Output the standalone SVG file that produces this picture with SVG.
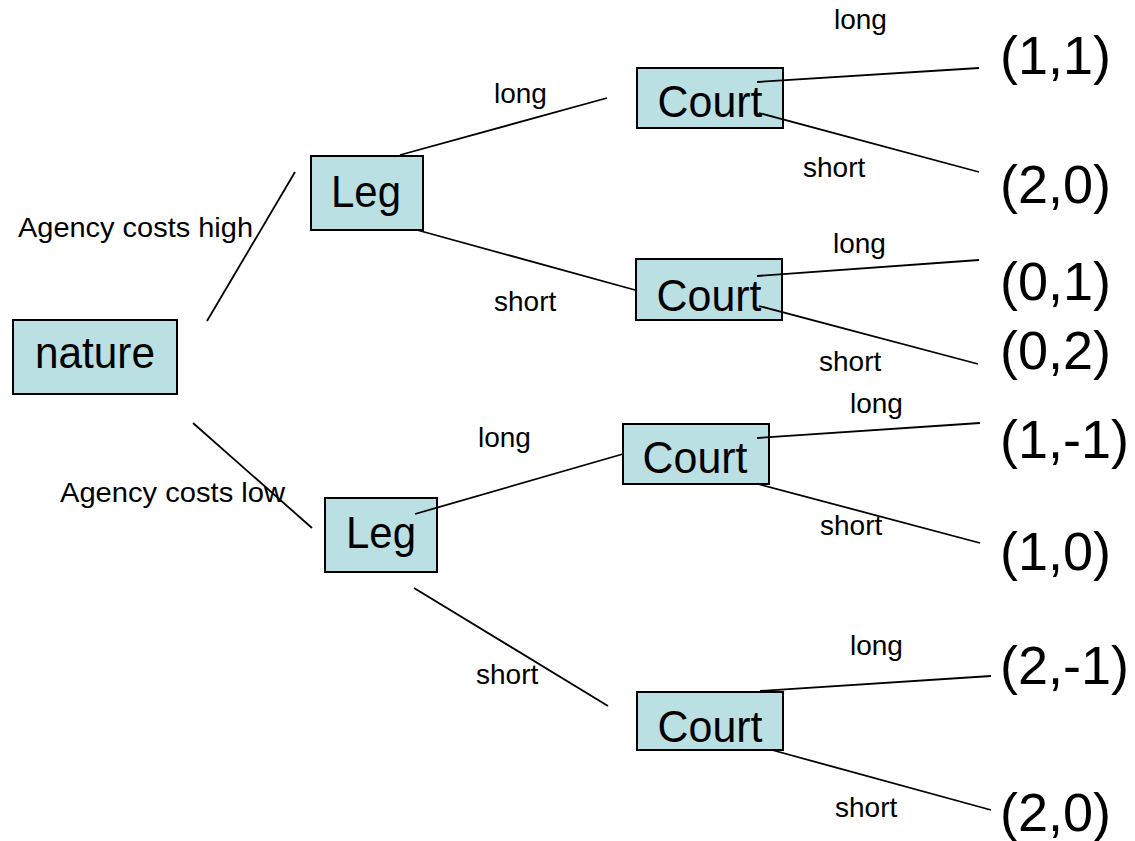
<svg xmlns="http://www.w3.org/2000/svg" width="1135" height="841" viewBox="0 0 1135 841">
<style>
.box{fill:#BBE0E3;stroke:#000;stroke-width:2}
.big{font-family:"Liberation Sans",Arial,sans-serif;font-size:44px;fill:#000}
.pay{font-family:"Liberation Sans",Arial,sans-serif;font-size:54px;fill:#000}
.mid{text-anchor:middle}
.sm{font-family:"Liberation Sans",Arial,sans-serif;font-size:28px;fill:#000}
.edge{stroke:#000;stroke-width:1.8;fill:none}
</style>
<rect width="1135" height="841" fill="#fff"/>
<g id="nature"><rect class="box" x="13" y="320" width="164" height="74"/><text class="big mid" x="95" y="368" textLength="120" lengthAdjust="spacingAndGlyphs">nature</text></g>
<g id="leg1"><rect class="box" x="311" y="156" width="112" height="74"/><text class="big mid" x="366" y="207" textLength="70" lengthAdjust="spacingAndGlyphs">Leg</text></g>
<g id="leg2"><rect class="box" x="325" y="498" width="112" height="74"/><text class="big mid" x="381" y="548" textLength="70" lengthAdjust="spacingAndGlyphs">Leg</text></g>
<g id="court1"><rect class="box" x="637" y="68" width="146" height="60"/><text class="big mid" x="710" y="117" textLength="105" lengthAdjust="spacingAndGlyphs">Court</text></g>
<g id="court2"><rect class="box" x="636" y="259" width="146" height="61"/><text class="big mid" x="709" y="311" textLength="105" lengthAdjust="spacingAndGlyphs">Court</text></g>
<g id="court3"><rect class="box" x="623" y="424" width="146" height="60"/><text class="big mid" x="695" y="473" textLength="105" lengthAdjust="spacingAndGlyphs">Court</text></g>
<g id="court4"><rect class="box" x="637" y="692" width="146" height="58"/><text class="big mid" x="710" y="742" textLength="105" lengthAdjust="spacingAndGlyphs">Court</text></g>
<g id="payoffs">
<text class="pay" x="1000" y="74">(1,1)</text>
<text class="pay" x="1000" y="203">(2,0)</text>
<text class="pay" x="1000" y="300">(0,1)</text>
<text class="pay" x="1000" y="369">(0,2)</text>
<text class="pay" x="1000" y="458">(1,-1)</text>
<text class="pay" x="1000" y="570">(1,0)</text>
<text class="pay" x="1000" y="684">(2,-1)</text>
<text class="pay" x="1000" y="831">(2,0)</text>
</g>
<g id="connectors">
<line class="edge" x1="207" y1="321" x2="295" y2="172"/>
<line class="edge" x1="193" y1="423" x2="312" y2="528"/>
<line class="edge" x1="400" y1="155" x2="607" y2="98"/>
<line class="edge" x1="417" y1="230" x2="635" y2="290"/>
<line class="edge" x1="415" y1="514" x2="623" y2="454"/>
<line class="edge" x1="414" y1="588" x2="608" y2="706"/>
<line class="edge" x1="757" y1="82" x2="979" y2="68"/>
<line class="edge" x1="759" y1="113" x2="979" y2="172"/>
<line class="edge" x1="757" y1="276" x2="979" y2="260"/>
<line class="edge" x1="759" y1="306" x2="978" y2="364"/>
<line class="edge" x1="757" y1="438" x2="980" y2="423"/>
<line class="edge" x1="758" y1="484" x2="980" y2="543"/>
<line class="edge" x1="760" y1="691" x2="991" y2="676"/>
<line class="edge" x1="772" y1="750" x2="991" y2="810"/>
</g>
<g id="labels">
<text class="sm" x="18" y="237" textLength="235" lengthAdjust="spacingAndGlyphs">Agency costs high</text>
<text class="sm" x="60" y="502" textLength="225" lengthAdjust="spacingAndGlyphs">Agency costs low</text>
<text class="sm" x="494" y="103">long</text>
<text class="sm" x="494" y="311">short</text>
<text class="sm" x="478" y="447">long</text>
<text class="sm" x="476" y="684">short</text>
<text class="sm" x="834" y="29">long</text>
<text class="sm" x="803" y="177">short</text>
<text class="sm" x="833" y="253">long</text>
<text class="sm" x="819" y="371">short</text>
<text class="sm" x="850" y="413">long</text>
<text class="sm" x="820" y="535">short</text>
<text class="sm" x="850" y="655">long</text>
<text class="sm" x="835" y="817">short</text>
</g>
</svg>
